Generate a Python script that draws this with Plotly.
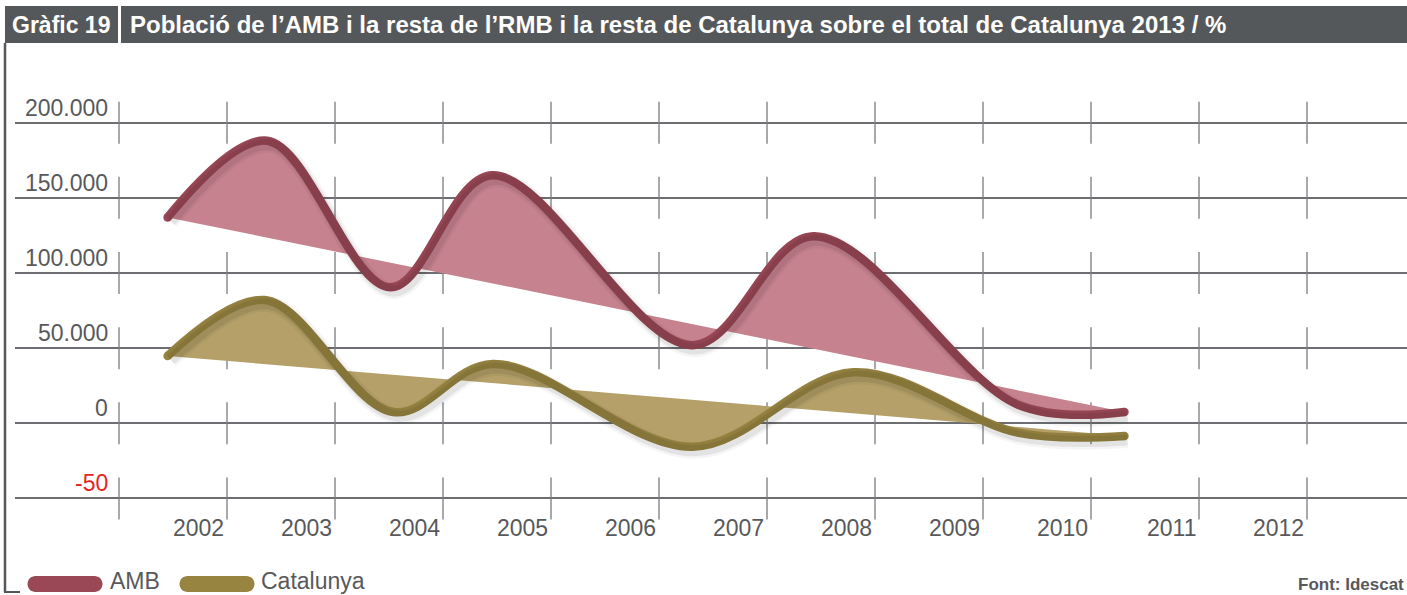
import plotly.graph_objects as go

# --- dades (llegides del gràfic: punts d'inflexió de cada corba) ---
amb_x = [2001.45, 2002.37, 2003.51, 2004.45, 2006.31, 2007.43, 2009.33, 2010.31]
amb = [137000, 188000, 90500, 165000, 52000, 124500, 12200, 7500]
cat_x = [2001.45, 2002.35, 2003.54, 2004.46, 2006.31, 2007.80, 2009.33, 2010.31]
catalunya = [44800, 82000, 7500, 39500, -15600, 34000, -6400, -8400]

separadors = list(range(2001, 2013))
anys = [str(a) for a in range(2002, 2013)]
valors_y = [-50000, 0, 50000, 100000, 150000, 200000]
etiquetes_y = ["-50", "0", "50.000", "100.000", "150.000", "200.000"]

W, H = 1407, 595
GRIS = "#58595b"
FONT = "Liberation Sans, Arial, sans-serif"
SUAVITAT = 1.0

COL_AMB, FILL_AMB = "#9a4756", "#c6828f"
COL_CAT, FILL_CAT = "#978441", "#b4a068"

# escales: 108 px per any, 665 unitats per px
X0 = 2001 - (119 - 15) / 108
X1 = 2001 + (W - 119) / 108
Y1 = 423.3 * 665.3
Y0 = -(H - 423.3) * 665.3


def px(x):
    return x / W


def py(y):
    return 1 - y / H


def pastilla(cx, cy, llarg, gruix, color):
    """Barra arrodonida per a la llegenda (path en pixels)."""
    r = gruix / 2
    a = llarg / 2 - r
    k = 0.5523 * r
    path = (f"M {-a},{-r} L {a},{-r} C {a + k},{-r} {a + r},{-k} {a + r},0 "
            f"C {a + r},{k} {a + k},{r} {a},{r} L {-a},{r} "
            f"C {-a - k},{r} {-a - r},{k} {-a - r},0 C {-a - r},{-k} {-a - k},{-r} {-a},{-r} Z")
    return dict(type="path", xref="paper", yref="paper", xsizemode="pixel", ysizemode="pixel",
                xanchor=px(cx), yanchor=py(cy), path=path, fillcolor=color, line=dict(width=0))


series = [(amb_x, amb, COL_AMB, FILL_AMB), (cat_x, catalunya, COL_CAT, FILL_CAT)]

fig = go.Figure()

# ombres (mateixes dades, eixos desplaçats uns pixels)
for xs, ys, _, _ in series:
    for amplada, alfa in ((16, 0.04), (11, 0.07)):
        fig.add_trace(go.Scatter(
            x=xs, y=ys, mode="lines", xaxis="x3", yaxis="y3",
            line=dict(color=f"rgba(0,0,0,{alfa})", width=amplada, shape="spline", smoothing=SUAVITAT),
            hoverinfo="skip", showlegend=False,
        ))

# creus de la graella
cx, cy = [], []
for v in valors_y:
    for s in separadors:
        cx.append(s)
        cy.append(v)
fig.add_trace(go.Scatter(
    x=cx, y=cy, mode="markers",
    marker=dict(symbol="line-ns", size=30, line=dict(color="#7a7b7e", width=1.3)),
    hoverinfo="skip", showlegend=False,
))

for xs, ys, col, fill in series:
    # recta entre el primer i l'últim punt
    fig.add_trace(go.Scatter(
        x=[xs[0], xs[-1]], y=[ys[0], ys[-1]], mode="lines",
        line=dict(width=0, color=fill), hoverinfo="skip", showlegend=False,
    ))
    fig.add_trace(go.Scatter(
        x=xs, y=ys, mode="lines", fill="tonexty", fillcolor=fill,
        line=dict(color=col, width=8.5, shape="spline", smoothing=SUAVITAT), showlegend=False,
    ))
    fig.add_trace(go.Scatter(
        x=[xs[0], xs[-1]], y=[ys[0], ys[-1]], mode="markers",
        marker=dict(size=8.5, color=col), hoverinfo="skip", showlegend=False,
    ))

anotacions = []
for v, t in zip(valors_y, etiquetes_y):
    anotacions.append(dict(
        x=px(110), xref="paper", xanchor="right", y=v, yref="y", yanchor="middle", yshift=15,
        text=t, showarrow=False, font=dict(size=23, color="#e3261c" if t == "-50" else GRIS, family=FONT),
    ))
for s, t in zip(separadors[1:], anys):
    anotacions.append(dict(
        x=s, xref="x", xanchor="right", xshift=-1, y=py(528), yref="paper", yanchor="middle",
        text=t, showarrow=False, font=dict(size=23, color=GRIS, family=FONT),
    ))

anotacions += [
    dict(x=px(10), xref="paper", xanchor="left", y=py(25), yref="paper", yanchor="middle",
         text="<b>Gràfic 19</b>", showarrow=False, font=dict(size=23, color="white", family=FONT)),
    dict(x=px(128), xref="paper", xanchor="left", y=py(25), yref="paper", yanchor="middle",
         text="<b>Població de l’AMB i la resta de l’RMB i la resta de Catalunya sobre el total de Catalunya 2013 / %</b>",
         showarrow=False, font=dict(size=24, color="white", family=FONT)),
    dict(x=px(108), xref="paper", xanchor="left", y=py(581), yref="paper", yanchor="middle",
         text="AMB", showarrow=False, font=dict(size=23, color=GRIS, family=FONT)),
    dict(x=px(259), xref="paper", xanchor="left", y=py(581), yref="paper", yanchor="middle",
         text="Catalunya", showarrow=False, font=dict(size=23, color=GRIS, family=FONT)),
    dict(x=px(1296), xref="paper", xanchor="left", y=py(584), yref="paper", yanchor="middle",
         text="<b>Font: Idescat</b>", showarrow=False, font=dict(size=17, color=GRIS, family=FONT)),
]

formes = [
    dict(type="rect", xref="paper", yref="paper", x0=px(5), x1=px(118), y0=py(43), y1=py(6),
         fillcolor="#55585b", line=dict(width=0)),
    dict(type="rect", xref="paper", yref="paper", x0=px(121), x1=1, y0=py(43), y1=py(6),
         fillcolor="#55585b", line=dict(width=0)),
    dict(type="line", xref="paper", yref="paper", x0=px(5), x1=px(5), y0=py(43), y1=py(592),
         line=dict(color="#55585b", width=2.5)),
    dict(type="line", xref="paper", yref="paper", x0=px(4), x1=px(20), y0=py(592), y1=py(592),
         line=dict(color="#55585b", width=2)),
    pastilla(65, 584, 75, 16, COL_AMB),
    pastilla(217, 584, 75, 16, COL_CAT),
]

eix_x = dict(range=[X0, X1], showgrid=False, zeroline=False, showticklabels=False, fixedrange=True)
eix_y = dict(range=[Y0, Y1], showgrid=False, zeroline=False, showticklabels=False, fixedrange=True)

fig.update_layout(
    width=W, height=H,
    margin=dict(l=0, r=0, t=0, b=0),
    paper_bgcolor="white", plot_bgcolor="white",
    xaxis=dict(eix_x, domain=[px(15), 1]),
    yaxis=dict(eix_y, domain=[0, 1], showgrid=True, tickvals=valors_y,
               gridcolor="#6d6e71", gridwidth=1.5),
    xaxis3=dict(eix_x, domain=[px(15), 1], anchor="y3", overlaying="x",
                range=[X0 - 3 / 108, X1 - 3 / 108], visible=False),
    yaxis3=dict(eix_y, domain=[0, 1], anchor="x3", overlaying="y",
                range=[Y0 + 4 * 665.3, Y1 + 4 * 665.3], visible=False),
    annotations=anotacions,
    shapes=formes,
    showlegend=False,
)

# sense el marge de 8 px del <body> ni la barra d'eines
fig.write_html("out.html", config={"displayModeBar": False},
               post_script="document.body.style.margin='0';")
